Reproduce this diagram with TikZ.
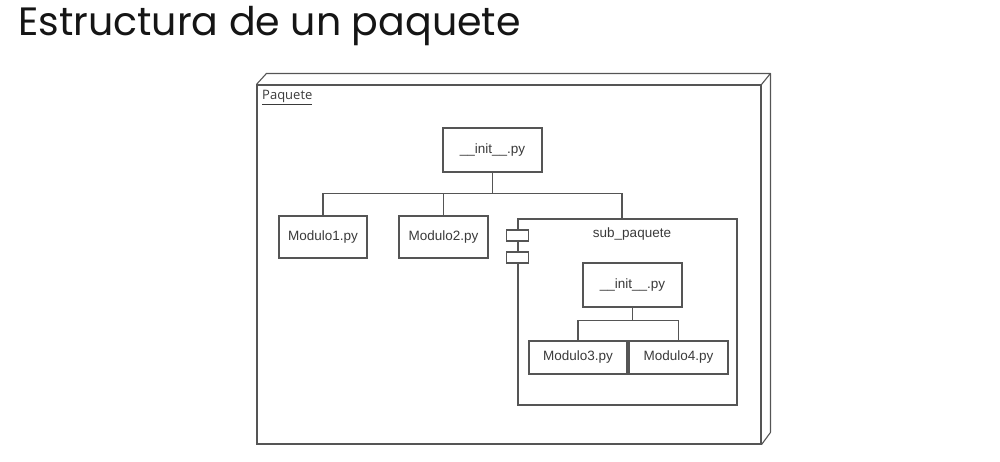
\documentclass[tikz,border=0pt]{standalone}
\usepackage{fontspec}
\setmainfont{Liberation Sans}
\newfontfamily\titlefont{Poppins}
\newfontfamily\labelfont{Open Sans}
\definecolor{linegray}{HTML}{555555}
\definecolor{txtgray}{HTML}{3A3A3A}
\definecolor{titleink}{HTML}{151515}
\begin{document}
\begin{tikzpicture}[x=1pt,y=-1pt,
  filebox/.style={draw=linegray,line width=1.1pt,fill=white,inner sep=0pt,
    text=txtgray,font=\fontsize{13.5}{15}\selectfont},
  tab/.style={draw=linegray,line width=1.1pt,fill=white,minimum width=22pt,
    minimum height=11pt,inner sep=0pt},
  wire/.style={draw=linegray,line width=1.1pt}]
\useasboundingbox (0,0) rectangle (1000,461);

% heading
\node[anchor=base west,inner sep=0pt,text=titleink,
  font=\titlefont\fontsize{39.5}{44}\selectfont] (title) at (18,35)
  {Estructura de un paquete};

% outer package drawn as a UML node (box with depth)
\node[draw=linegray,line width=1.1pt,minimum width=504pt,minimum height=359pt,
  inner sep=0pt] (pkg) at (509,264.5) {};
\draw[wire,line join=round] (pkg.north west) -- ++(10,-11) -- ++(504,0)
  coordinate (pkgback) -- (pkg.north east);
\draw[wire,line join=round] (pkgback) -- ++(0,359) -- (pkg.south east);
\node[anchor=north west,inner sep=0pt,text=txtgray,
  font=\labelfont\fontsize{13}{14}\selectfont] (pkglabel) at (262,90)
  {\underline{Paquete}};

% top level files
\node[filebox,minimum width=99pt,minimum height=44pt] (init) at (492.5,150) {\_\_init\_\_.py};
\node[filebox,minimum width=88pt,minimum height=42pt] (m1) at (323,237) {Modulo1.py};
\node[filebox,minimum width=89pt,minimum height=42pt] (m2) at (443.5,237) {Modulo2.py};

% sub package as a component
\node[draw=linegray,line width=1.1pt,minimum width=219pt,minimum height=186pt,
  inner sep=0pt] (sub) at (627.5,312) {};
\node[tab] (tab1) at (sub.west |- 0,235.5) {};
\node[tab] (tab2) at (sub.west |- 0,257.5) {};
\node[text=txtgray,font=\fontsize{13.5}{15}\selectfont,inner sep=0pt] (sublabel)
  at (632,234) {sub\_paquete};

\node[filebox,minimum width=99pt,minimum height=44pt] (init2) at (632.5,285) {\_\_init\_\_.py};
\node[filebox,minimum width=98pt,minimum height=33pt] (m3) at (578,357.5) {Modulo3.py};
\node[filebox,minimum width=99pt,minimum height=33pt] (m4) at (678.5,357.5) {Modulo4.py};

% tree connectors
\draw[wire] (init.south) -- ++(0,21) coordinate (bus);
\draw[wire] (m1.north) |- (bus) -| ([xshift=-5.5pt]sub.north);
\draw[wire] (m2.north) -- (m2.north |- bus);

\draw[wire] (init2.south) -- ++(0,13) coordinate (bus2);
\draw[wire] (m3.north) |- (bus2) -| (m4.north);
\end{tikzpicture}
\end{document}
